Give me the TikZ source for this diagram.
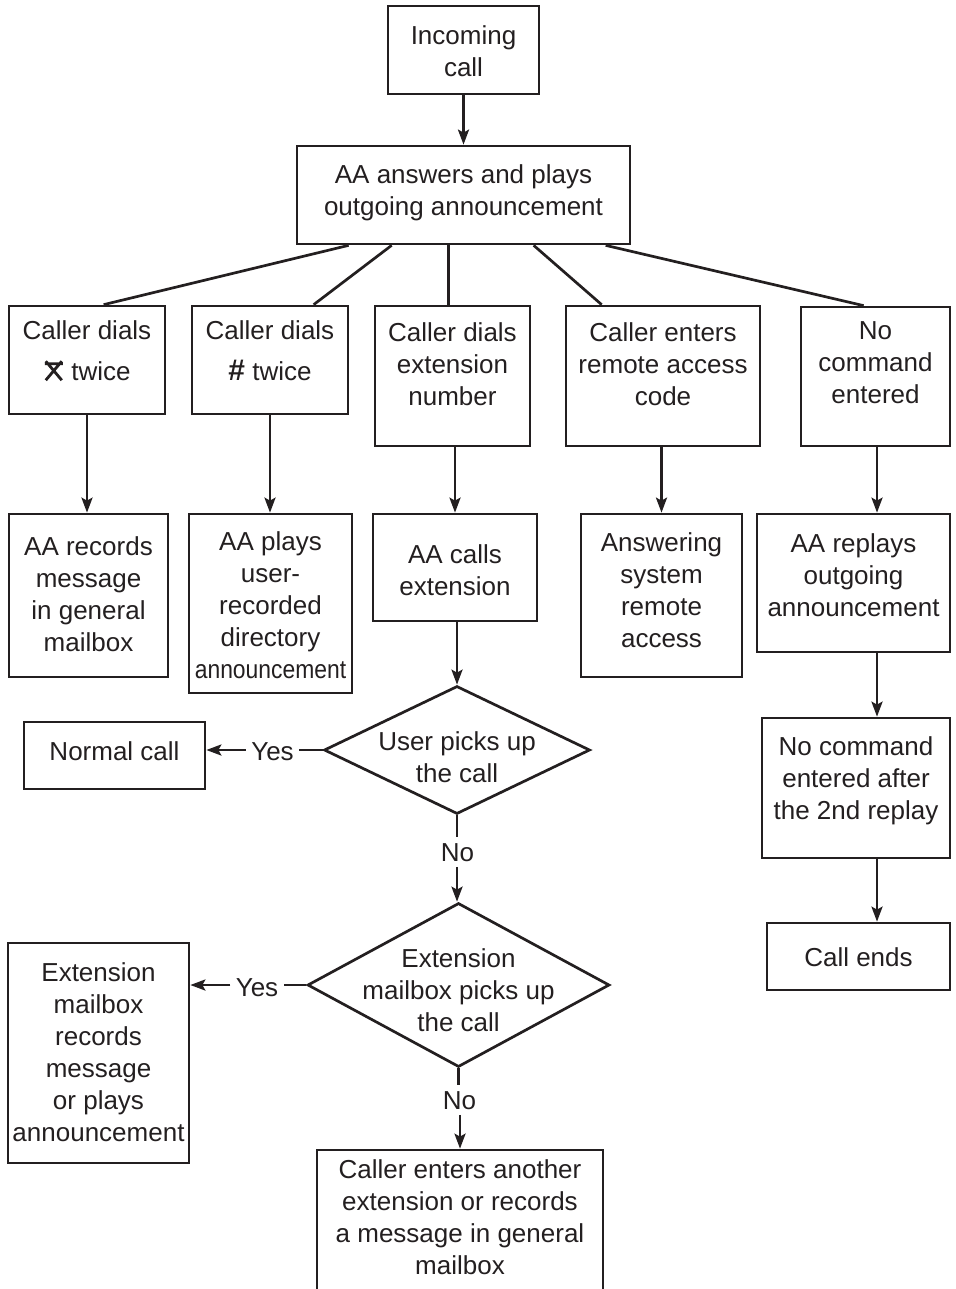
\documentclass[tikz,border=0pt]{standalone}
\usepackage{fontspec}
\setmainfont{Liberation Sans}[BoldFont={Liberation Sans Bold}]
\usetikzlibrary{shapes.geometric,arrows.meta}
\definecolor{ink}{HTML}{231F20}
\newcommand\phonestar{\tikz[baseline=0pt,x=1pt,y=1pt,line width=2.8pt,line cap=butt]{\draw[ink] (0,0)--(16,19) (0,19)--(16,0) (-1,16.5)--(17,16.5);}}
\newcommand\flowbox[5]{\node[fbox,minimum width={#4-#2},minimum height={#5-#3}] (#1) at ({(#2+#4)/2},{(#3+#5)/2}) {};}
\tikzset{
  fbox/.style={draw=ink,rectangle,inner sep=0pt,line width=2.7pt},
  dbox/.style={draw=ink,diamond,inner sep=0pt,line width=2.7pt},
  txt/.style={align=center,inner sep=0pt},
  lbl/.style={inner sep=4pt,text height=19pt,text depth=0pt},
  flow/.style={-{Stealth[length=15pt,width=11pt,inset=3pt]}}
}
\begin{document}
\begin{tikzpicture}[x=1pt,y=-1pt,line width=2.7pt,color=ink,font=\fontsize{26}{32}\selectfont]
\useasboundingbox (0,0) rectangle (955,1289);
\clip (0,0) rectangle (955,1289);
% boxes
\flowbox{inc}{388}{6}{539}{94}
\node[txt] (inc-t) at (463.5,51) {Incoming\\call};
\flowbox{aa}{297}{146}{630}{244}
\node[txt] (aa-t) at (463.5,193) {AA answers and plays\\outgoing announcement};
\flowbox{b1}{9}{306}{165}{414}
\node[txt] (b1-t) at (87,351) {Caller dials\\[9pt]\phonestar\ twice};
\flowbox{b2}{192}{306}{348}{414}
\node[txt] (b2-t) at (270,351) {Caller dials\\[9pt]\scalebox{1.15}{\textbf{\#}} twice};
\flowbox{b3}{375}{306}{530}{446}
\node[txt] (b3-t) at (452.5,364) {Caller dials\\extension\\number};
\flowbox{b4}{566}{306}{760}{446}
\node[txt] (b4-t) at (663,364) {Caller enters\\remote access\\code};
\flowbox{b5}{801}{307}{950}{446}
\node[txt] (b5-t) at (875.5,363) {No\\command\\entered};
\flowbox{b1b}{9}{514}{168}{677}
\node[txt] (b1b-t) at (88.5,594) {AA records\\message\\in general\\mailbox};
\flowbox{b2b}{189}{514}{352}{693}
\node[txt] (b2b-t) at (270.5,605) {AA plays\\user-\\recorded\\directory\\\scalebox{0.88}[1]{announcement}};
\flowbox{b3b}{373}{514}{537}{621}
\node[txt] (b3b-t) at (455,570) {AA calls\\extension};
\flowbox{b4b}{581}{514}{742}{677}
\node[txt] (b4b-t) at (661.5,590) {Answering\\system\\remote\\access};
\flowbox{b5b}{757}{514}{950}{652}
\node[txt] (b5b-t) at (853.5,575) {AA replays\\outgoing\\announcement};
\flowbox{b6}{762}{718}{950}{858}
\node[txt] (b6-t) at (856,781) {No command\\entered after\\the 2nd replay};
\flowbox{b7}{767}{923}{950}{990}
\node[txt] (b7-t) at (858.5,957) {Call ends};
\flowbox{nc}{24}{722}{205}{789}
\node[txt] (nc-t) at (114.5,751) {Normal call};
\node[dbox,minimum width=266,minimum height=128] (d1) at (457,750) {};
\node[txt] (d1-t) at (457,757) {User picks up\\the call};
\node[dbox,minimum width=302,minimum height=164] (d2) at (458.5,985) {};
\node[txt] (d2-t) at (458.5,990) {Extension\\mailbox picks up\\the call};
\flowbox{ext}{8}{943}{189}{1163}
\node[txt] (ext-t) at (98.5,1052) {Extension\\mailbox\\records\\message\\or plays\\announcement};
\flowbox{fin}{317}{1150}{603}{1340}
\node[txt] (fin-t) at (460,1217) {Caller enters another\\extension or records\\a message in general\\mailbox};
% labels
\node[lbl] (y1) at (272.5,751) {Yes};
\node[lbl] (n1) at (457.5,852) {No};
\node[lbl] (y2) at (257,987) {Yes};
\node[lbl] (n2) at (459.5,1100) {No};
% connectors
\draw[flow] (inc) -- (aa);
\draw ([xshift=53pt]aa.south west) -- ([xshift=96pt]b1.north west);
\draw ([xshift=96pt]aa.south west) -- ([xshift=123pt]b2.north west);
\draw ([xshift=153pt]aa.south west) -- ([xshift=75pt]b3.north west);
\draw ([xshift=238pt]aa.south west) -- ([xshift=37pt]b4.north west);
\draw ([xshift=310pt]aa.south west) -- ([xshift=64pt]b5.north west);
\draw[flow] (b1.south) -- (b1.south |- b1b.north);
\draw[flow] (b2.south) -- (b2.south |- b2b.north);
\draw[flow] (b3b.north |- b3.south) -- (b3b.north);
\draw[flow] (b4b.north |- b4.south) -- (b4b.north);
\draw[flow] ([xshift=1.5pt]b5.south) -- ([xshift=1.5pt]b5.south |- b5b.north);
\draw[flow] ([xshift=1.5pt]b5.south |- b5b.south) -- ([xshift=1.5pt]b5.south |- b6.north);
\draw[flow] ([xshift=1.5pt]b5.south |- b6.south) -- ([xshift=1.5pt]b5.south |- b7.north);
\draw[flow] (d1.north |- b3b.south) -- (d1.north);
\draw (d1.west) -- (d1.west -| y1.east);
\draw[flow] (d1.west -| y1.west) -- (d1.west -| nc.east);
\draw (d1.south) -- (d1.south |- n1.north);
\draw[flow] (d1.south |- n1.south) -- (d1.south |- d2.north);
\draw (d2.west) -- (d2.west -| y2.east);
\draw[flow] (d2.west -| y2.west) -- (d2.west -| ext.east);
\draw (d2.south) -- (d2.south |- n2.north);
\draw[flow] (fin.north |- n2.south) -- (fin.north);
\end{tikzpicture}
\end{document}
